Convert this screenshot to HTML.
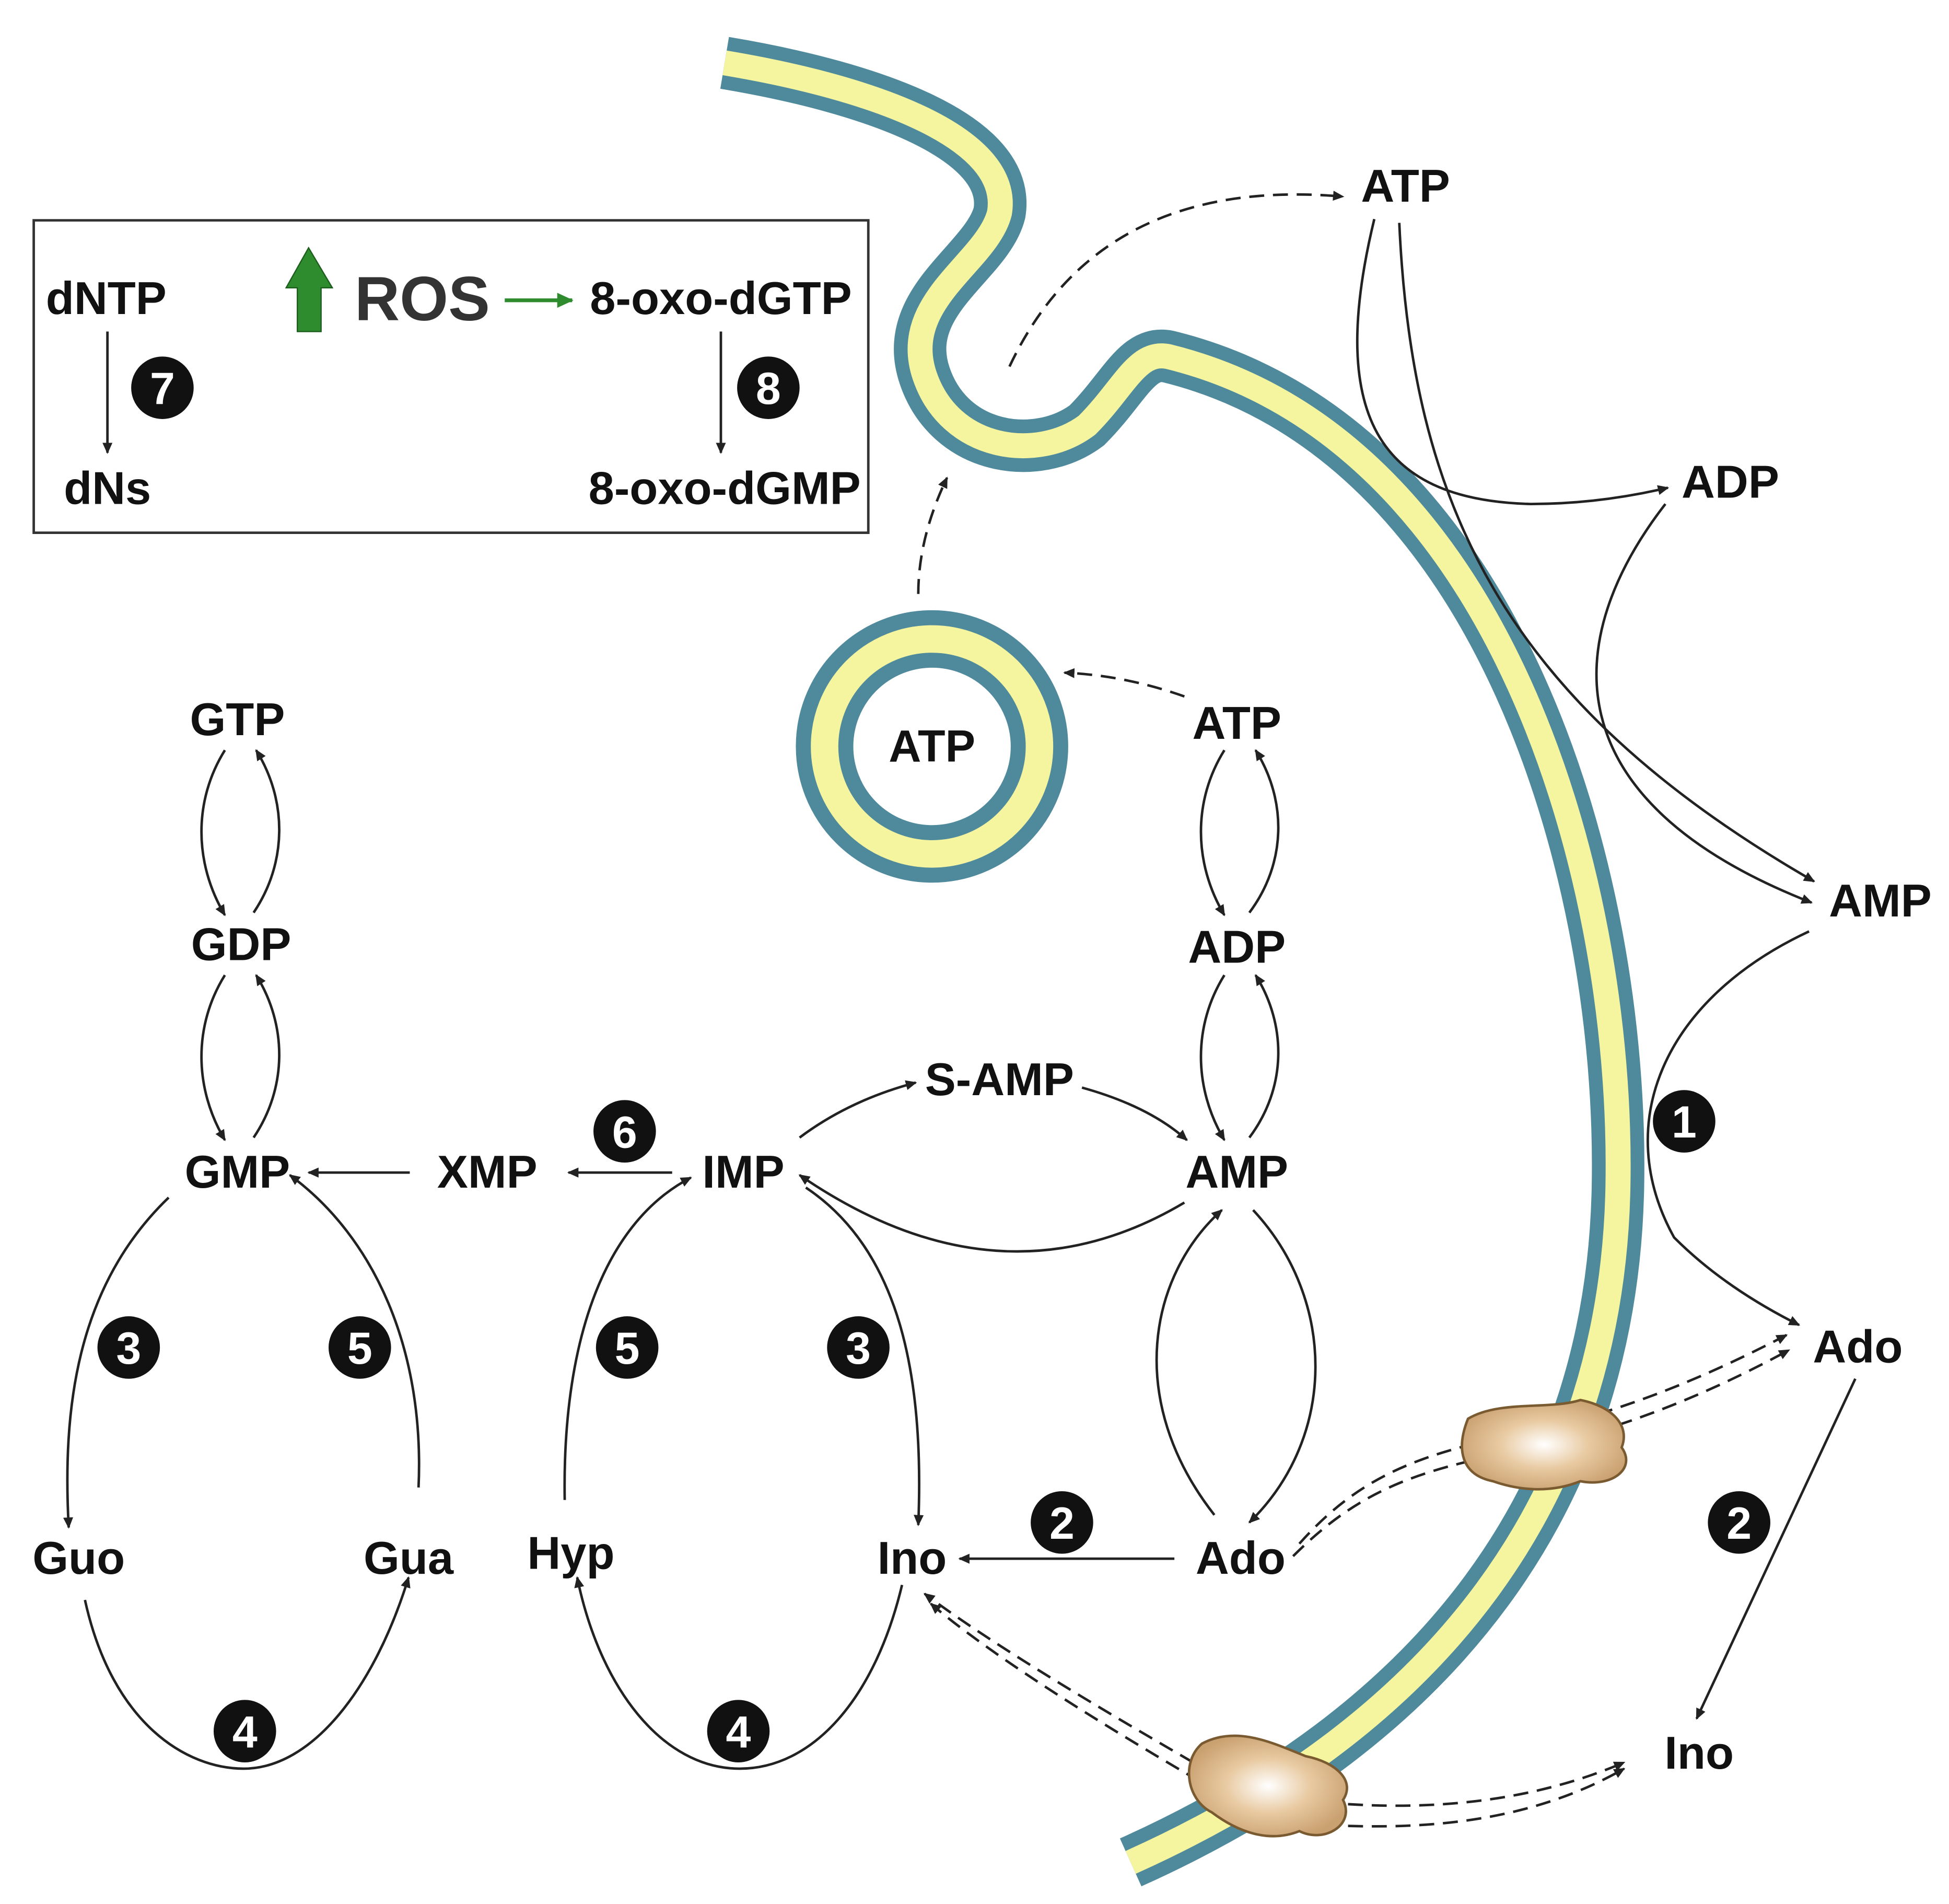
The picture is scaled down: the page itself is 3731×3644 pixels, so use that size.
<!DOCTYPE html>
<html><head><meta charset="utf-8"><style>
html,body{margin:0;padding:0;background:#fff}
svg{display:block}
text{font-family:"Liberation Sans",sans-serif;font-weight:bold;fill:#111}
</style></head><body>
<svg width="3731" height="3644" viewBox="0 0 1560 1523" xmlns="http://www.w3.org/2000/svg">
<defs>
<marker id="a" markerWidth="10" markerHeight="10" refX="8" refY="5" orient="auto" markerUnits="userSpaceOnUse"><path d="M0,1 L9,5 L0,9 z" fill="#222"/></marker>
<marker id="g" markerWidth="14" markerHeight="14" refX="12" refY="7" orient="auto" markerUnits="userSpaceOnUse"><path d="M0,1 L13,7 L0,13 z" fill="#2e8b2e"/></marker>
<radialGradient id="br" cx="50%" cy="50%" r="55%"><stop offset="0" stop-color="#fff"/><stop offset="0.5" stop-color="#e8c9a0"/><stop offset="1" stop-color="#c9a070"/></radialGradient>
</defs>
<path d="M580,50 C700,70 810,110 800,170 C790,210 720,240 740,300 C760,360 830,370 870,340 C900,310 910,280 935,285 C1200,350 1300,700 1295,950 C1290,1200 1150,1380 905,1490" fill="none" stroke="#4e8a9c" stroke-width="42"/>
<path d="M580,50 C700,70 810,110 800,170 C790,210 720,240 740,300 C760,360 830,370 870,340 C900,310 910,280 935,285 C1200,350 1300,700 1295,950 C1290,1200 1150,1380 905,1490" fill="none" stroke="#f5f5a0" stroke-width="20"/>
<circle cx="746" cy="597" r="86" fill="#fff" stroke="#4e8a9c" stroke-width="46"/>
<circle cx="746" cy="597" r="86" fill="none" stroke="#f5f5a0" stroke-width="22"/>
<text x="746" y="609" font-size="36" text-anchor="middle">ATP</text>
<rect x="27" y="176" width="668" height="250" fill="none" stroke="#333" stroke-width="2"/>
<g fill="none" stroke="#222" stroke-width="2" marker-end="url(#a)">
<path d="M86,265 L86,362"/><path d="M577,265 L577,362"/>
<path d="M180,600 C155,640 155,690 180,732"/><path d="M203,730 C230,690 230,640 205,600"/>
<path d="M180,780 C155,820 155,870 180,912"/><path d="M203,910 C230,870 230,820 205,780"/>
<path d="M980,600 C955,640 955,690 980,732"/><path d="M1000,730 C1030,690 1030,640 1005,600"/>
<path d="M980,780 C955,820 955,870 980,912"/><path d="M1000,910 C1030,870 1030,820 1005,780"/>
<path d="M328,938 L247,938"/><path d="M538,938 L455,938"/>
<path d="M640,910 Q680,880 733,866"/><path d="M866,870 Q920,885 950,912"/>
<path d="M948,962 Q800,1050 640,940"/>
<path d="M135,958 C60,1030 50,1130 55,1222"/>
<path d="M335,1190 C340,1080 300,990 232,940"/>
<path d="M68,1280 C90,1380 150,1415 195,1415 C250,1415 300,1350 327,1262"/>
<path d="M452,1200 C450,1080 480,980 553,942"/>
<path d="M645,950 C720,1000 740,1100 735,1220"/>
<path d="M722,1268 C700,1360 650,1415 592,1415 C530,1415 480,1350 462,1262"/>
<path d="M940,1247 L768,1247"/>
<path d="M1003,968 C1070,1040 1070,1150 1000,1218"/>
<path d="M972,1212 C900,1120 920,1020 978,968"/>
<path d="M1100,175 C1060,340 1110,400 1225,403 Q1280,403 1335,390"/>
<path d="M1120,178 C1130,400 1200,560 1452,705"/>
<path d="M1333,403 C1250,510 1240,640 1450,722"/>
<path d="M1448,745 C1330,800 1290,900 1340,990 Q1380,1030 1440,1060"/>
<path d="M1485,1103 L1358,1375"/>
</g>
<g fill="none" stroke="#222" stroke-width="2" stroke-dasharray="12,7" marker-end="url(#a)">
<path d="M948,557 Q900,540 852,538"/>
<path d="M735,475 Q735,430 758,382"/>
<path d="M808,293 Q880,140 1075,157"/>
<path d="M1040,1235 C1080,1190 1120,1170 1180,1155 C1260,1140 1330,1120 1430,1068"/>
<path d="M1035,1245 C1080,1200 1120,1182 1180,1168 C1260,1155 1340,1130 1432,1080"/>
<path d="M960,1425 C900,1390 800,1330 745,1283"/>
<path d="M955,1410 C900,1378 800,1320 740,1275"/>
<path d="M1060,1442 C1150,1450 1230,1440 1300,1410"/>
<path d="M1060,1460 C1150,1465 1230,1455 1300,1415"/>
</g>
<path d="M1175,1135 C1200,1120 1240,1128 1265,1120 C1290,1125 1305,1140 1298,1158 C1310,1175 1290,1190 1265,1185 C1240,1195 1215,1192 1195,1185 C1170,1180 1165,1160 1175,1135z" fill="url(#br)" stroke="#7a5a30" stroke-width="2"/>
<path d="M962,1395 C990,1380 1020,1395 1045,1405 C1070,1410 1085,1425 1075,1440 C1085,1460 1060,1475 1040,1465 C1015,1475 990,1465 970,1450 C950,1440 945,1410 962,1395z" fill="url(#br)" stroke="#7a5a30" stroke-width="2"/>
<path d="M404,240 L458,240" stroke="#2e8b2e" stroke-width="3" marker-end="url(#g)"/>
<path d="M247,198 L266,230 L257,230 L257,265 L238,265 L238,230 L229,230 z" fill="#2e8b2e" stroke="#1d5d1d" stroke-width="1"/>
<g font-size="37">
<text x="85" y="251" text-anchor="middle">dNTP</text>
<text x="86" y="403" text-anchor="middle">dNs</text>
<text x="577" y="251" text-anchor="middle">8-oxo-dGTP</text>
<text x="580" y="403" text-anchor="middle">8-oxo-dGMP</text>
<text x="190" y="588" text-anchor="middle">GTP</text>
<text x="193" y="768" text-anchor="middle">GDP</text>
<text x="190" y="950" text-anchor="middle">GMP</text>
<text x="390" y="950" text-anchor="middle">XMP</text>
<text x="595" y="950" text-anchor="middle">IMP</text>
<text x="800" y="876" text-anchor="middle">S-AMP</text>
<text x="990" y="591" text-anchor="middle">ATP</text>
<text x="990" y="770" text-anchor="middle">ADP</text>
<text x="990" y="950" text-anchor="middle">AMP</text>
<text x="63" y="1259" text-anchor="middle">Guo</text>
<text x="327" y="1259" text-anchor="middle">Gua</text>
<text x="457" y="1255" text-anchor="middle">Hyp</text>
<text x="730" y="1259" text-anchor="middle">Ino</text>
<text x="993" y="1259" text-anchor="middle">Ado</text>
<text x="1125" y="161" text-anchor="middle">ATP</text>
<text x="1385" y="398" text-anchor="middle">ADP</text>
<text x="1505" y="733" text-anchor="middle">AMP</text>
<text x="1487" y="1090" text-anchor="middle">Ado</text>
<text x="1360" y="1415" text-anchor="middle">Ino</text>
</g>
<text x="338" y="256" font-size="50" text-anchor="middle" style="fill:#333">ROS</text>
<g font-size="36">
<g><circle cx="130" cy="310" r="25" fill="#111"/><text x="130" y="323" text-anchor="middle" style="fill:#fff">7</text></g>
<g><circle cx="615" cy="310" r="25" fill="#111"/><text x="615" y="323" text-anchor="middle" style="fill:#fff">8</text></g>
<g><circle cx="1348" cy="897" r="25" fill="#111"/><text x="1348" y="910" text-anchor="middle" style="fill:#fff">1</text></g>
<g><circle cx="850" cy="1218" r="25" fill="#111"/><text x="850" y="1231" text-anchor="middle" style="fill:#fff">2</text></g>
<g><circle cx="1392" cy="1218" r="25" fill="#111"/><text x="1392" y="1231" text-anchor="middle" style="fill:#fff">2</text></g>
<g><circle cx="103" cy="1078" r="25" fill="#111"/><text x="103" y="1091" text-anchor="middle" style="fill:#fff">3</text></g>
<g><circle cx="687" cy="1078" r="25" fill="#111"/><text x="687" y="1091" text-anchor="middle" style="fill:#fff">3</text></g>
<g><circle cx="288" cy="1078" r="25" fill="#111"/><text x="288" y="1091" text-anchor="middle" style="fill:#fff">5</text></g>
<g><circle cx="502" cy="1078" r="25" fill="#111"/><text x="502" y="1091" text-anchor="middle" style="fill:#fff">5</text></g>
<g><circle cx="196" cy="1385" r="25" fill="#111"/><text x="196" y="1398" text-anchor="middle" style="fill:#fff">4</text></g>
<g><circle cx="591" cy="1385" r="25" fill="#111"/><text x="591" y="1398" text-anchor="middle" style="fill:#fff">4</text></g>
<g><circle cx="500" cy="905" r="25" fill="#111"/><text x="500" y="918" text-anchor="middle" style="fill:#fff">6</text></g>
</g>
</svg>
</body></html>
